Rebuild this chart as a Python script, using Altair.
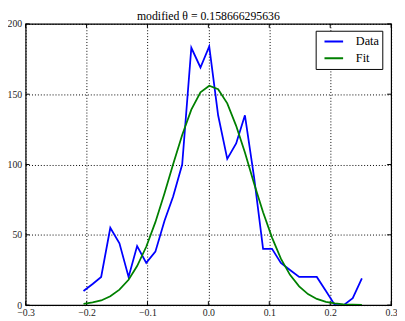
import altair as alt
import pandas as pd

xs = [-0.205, -0.190, -0.176, -0.161, -0.146, -0.131, -0.117, -0.102, -0.087, -0.072,
      -0.058, -0.043, -0.028, -0.013, 0.0014, 0.016, 0.031, 0.0456, 0.060, 0.075,
      0.0898, 0.1045, 0.119, 0.134, 0.149, 0.1635, 0.178, 0.193, 0.2077, 0.222,
      0.237, 0.252]
data_y = [10, 15, 20, 55, 44, 20, 42, 30, 38, 60,
          77, 100, 183, 169, 184, 135, 104, 115, 135, 91,
          40, 40, 30, 25, 20, 20, 20, 10, 0, 0,
          5, 19]
fit_y = [0.9, 1.9, 3.3, 6.3, 11.0, 18.0, 27.8, 41.5, 59.0, 79.5,
         100.0, 121.0, 139.0, 151.3, 156.0, 153.5, 143.5, 127.5, 108.5, 86.5,
         66.0, 48.0, 33.0, 21.5, 13.3, 7.8, 4.4, 2.3, 1.2, 0.6,
         0.3, 0.1]
x_ticks = [-0.3, -0.2, -0.1, 0.0, 0.1, 0.2, 0.3]
y_ticks = [0, 50, 100, 150, 200]
title_text = "modified θ = 0.158666295636"

rows = []
for x, y in zip(xs, data_y):
    rows.append({"x": x, "y": y, "series": "Data"})
for x, y in zip(xs, fit_y):
    rows.append({"x": x, "y": y, "series": "Fit"})
df = pd.DataFrame(rows)

W, H = 373, 287
FONT = "Liberation Serif"
LFS = 10

xscale = alt.Scale(domain=[-0.3, 0.3], nice=False, zero=False)
yscale = alt.Scale(domain=[0, 200], nice=False)

lines = alt.Chart(df).mark_line(strokeWidth=1.8, clip=True).encode(
    x=alt.X("x:Q", scale=xscale,
            axis=alt.Axis(values=x_ticks, title=None, grid=True, domain=False,
                          ticks=False, labelPadding=3, labelFlush=False,
                          labelFont=FONT, labelFontSize=LFS, labelColor="#222222",
                          labelExpr="replace(format(datum.value, '.1f'), '-', '−')")),
    y=alt.Y("y:Q", scale=yscale,
            axis=alt.Axis(values=y_ticks, title=None, grid=True, domain=False,
                          ticks=False, labelPadding=4, labelFlush=False,
                          labelFont=FONT, labelFontSize=LFS, labelColor="#222222")),
    color=alt.Color("series:N",
                    scale=alt.Scale(domain=["Data", "Fit"], range=["#0000ff", "#008000"]),
                    legend=alt.Legend(title=None, orient="none", legendX=296, legendY=7,
                                      symbolType="stroke", symbolSize=361,
                                      symbolStrokeWidth=2, symbolOffset=5,
                                      labelFont=FONT, labelFontSize=12.5,
                                      labelColor="black", labelOffset=12,
                                      rowPadding=1, clipHeight=16,
                                      padding=3, strokeColor="black",
                                      fillColor="white", cornerRadius=0)),
    detail="series:N",
)

xt = pd.DataFrame({"v": x_ticks})
yt = pd.DataFrame({"v": y_ticks})
tb = alt.Chart(xt).mark_rule(color="black", strokeWidth=1).encode(
    x=alt.X("v:Q", scale=xscale), y=alt.value(H - 4), y2=alt.value(H))
tt = alt.Chart(xt).mark_rule(color="black", strokeWidth=1).encode(
    x=alt.X("v:Q", scale=xscale), y=alt.value(0), y2=alt.value(4))
tl = alt.Chart(yt).mark_rule(color="black", strokeWidth=1).encode(
    y=alt.Y("v:Q", scale=yscale), x=alt.value(0), x2=alt.value(4))
tr = alt.Chart(yt).mark_rule(color="black", strokeWidth=1).encode(
    y=alt.Y("v:Q", scale=yscale), x=alt.value(W - 4), x2=alt.value(W))

title_df = pd.DataFrame({"t": [title_text]})
title = alt.Chart(title_df).mark_text(
    font=FONT, fontSize=12, color="black", baseline="alphabetic", align="center"
).encode(text="t:N", x=alt.value(W / 2), y=alt.value(-4))

chart = alt.layer(tb, tt, tl, tr, lines, title).properties(
    width=W, height=H,
    background="white",
    autosize=alt.AutoSizeParams(type="none"),
    padding={"left": 18, "top": 13, "right": 6, "bottom": 13},
).configure_view(
    stroke="black", strokeWidth=1.2, fill="white"
).configure_axis(
    gridColor="black", gridDash=[1, 2], gridOpacity=1, gridWidth=1,
    labelFont=FONT, labelFontSize=LFS, labelColor="#222222",
)

chart.save("out.html", embed_options={"renderer": "svg", "actions": False})
